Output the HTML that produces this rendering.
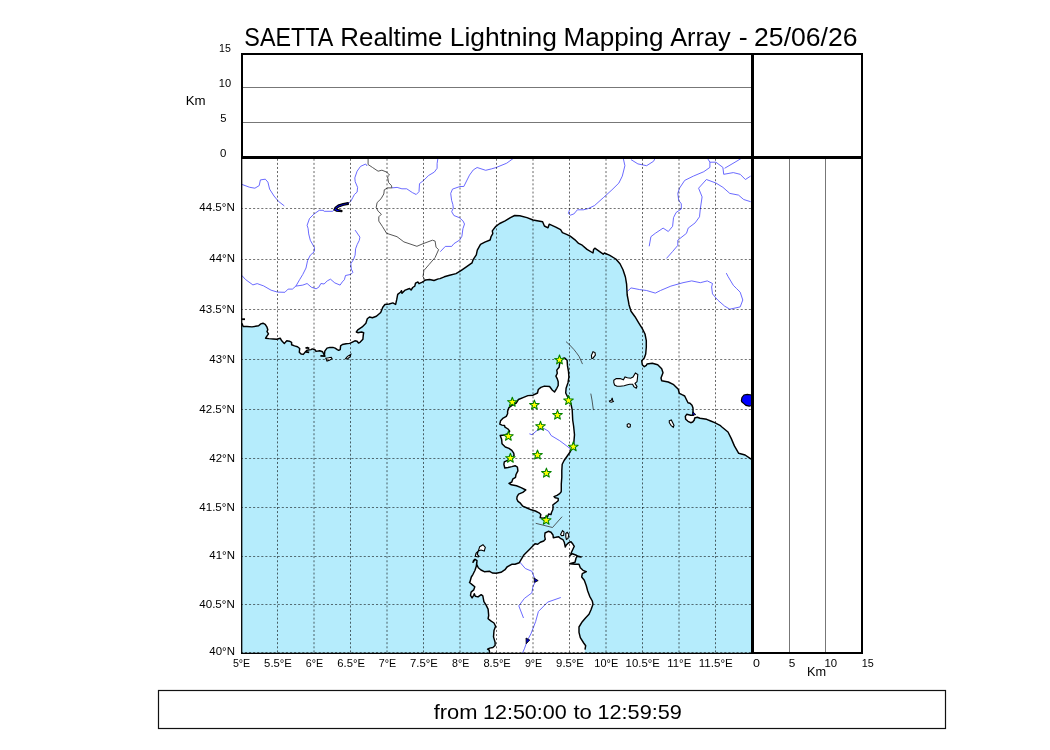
<!DOCTYPE html>
<html><head><meta charset="utf-8"><style>
html,body{margin:0;padding:0;background:#fff;width:1050px;height:750px;overflow:hidden;}
svg text{font-family:"Liberation Sans",sans-serif; fill:#000;}
</style></head><body>
<svg width="1050" height="750" viewBox="0 0 1050 750" style="position:absolute;left:0;top:0">
<defs><clipPath id="mc"><rect x="241" y="157" width="511" height="496"/></clipPath></defs>
<rect x="241" y="157" width="511" height="496" fill="#b5ecfc"/>
<g clip-path="url(#mc)">
<path d="M241.0 323.0 L242.1 323.9 L243.2 326.5 L246.9 326.5 L252.0 326.9 L258.6 325.8 L260.8 323.9 L263.0 323.2 L265.2 324.3 L267.0 327.2 L267.8 329.8 L267.0 331.6 L268.5 333.8 L266.7 336.4 L265.6 338.2 L268.9 338.6 L273.3 339.0 L276.9 339.3 L280.2 338.2 L281.7 340.8 L284.3 343.4 L285.4 342.3 L286.8 340.8 L289.4 341.2 L291.6 342.3 L291.6 344.8 L294.5 345.9 L297.5 346.7 L299.7 348.5 L299.3 352.2 L301.1 354.0 L303.3 354.4 L305.5 351.8 L307.0 350.3 L311.0 349.6 L312.3 348.9 L315.3 350.0 L316.0 351.4 L319.7 350.7 L322.6 351.8 L323.7 354.0 L324.4 355.3 L324.8 351.1 L327.0 348.1 L329.9 347.4 L332.9 347.4 L335.1 348.1 L337.3 349.6 L338.7 350.3 L340.2 349.6 L340.6 345.9 L342.4 344.5 L346.1 343.7 L349.7 343.4 L351.9 342.3 L354.9 340.8 L357.1 341.2 L358.5 343.0 L360.0 342.3 L362.9 339.3 L363.3 334.9 L363.7 332.7 L361.5 332.0 L357.8 332.7 L356.3 332.0 L357.8 329.8 L362.2 326.9 L363.7 325.4 L365.9 323.2 L367.3 318.8 L369.5 317.0 L372.4 317.7 L376.4 316.3 L380.7 312.5 L382.8 307.2 L384.9 304.5 L389.2 304.0 L392.9 302.9 L395.6 304.5 L396.7 299.7 L397.7 294.4 L400.4 292.3 L401.5 290.7 L402.0 293.3 L405.2 290.1 L409.5 288.5 L411.1 290.1 L412.7 287.5 L414.8 286.2 L415.5 283.2 L418.0 282.0 L419.0 283.7 L422.3 282.1 L425.5 280.0 L429.7 279.5 L434.0 280.5 L438.3 278.9 L440.0 278.6 L444.3 276.8 L449.6 275.2 L456.0 273.6 L461.3 270.4 L466.7 266.7 L472.0 262.9 L473.1 259.7 L476.3 254.9 L477.3 250.1 L480.5 244.3 L484.8 242.1 L490.1 240.0 L491.2 236.3 L492.8 233.6 L492.3 230.9 L495.5 226.7 L499.7 223.5 L505.1 220.8 L510.4 217.6 L514.7 215.5 L519.8 215.8 L527.0 217.6 L533.0 220.0 L542.6 221.8 L544.4 226.0 L548.0 227.8 L549.2 224.2 L555.8 227.2 L560.6 229.6 L562.4 232.6 L566.6 234.4 L570.2 236.2 L575.0 239.8 L578.6 243.4 L582.2 245.2 L587.0 249.4 L593.0 253.0 L593.6 249.4 L594.8 248.2 L599.0 251.2 L603.2 254.2 L604.4 253.0 L609.8 255.4 L615.8 259.0 L620.0 263.8 L623.0 269.8 L625.4 277.0 L626.6 284.2 L627.2 295.0 L628.3 300.7 L629.0 304.7 L631.0 311.3 L635.0 316.7 L639.0 323.3 L642.3 328.7 L645.0 334.0 L646.3 340.7 L646.3 347.3 L645.7 354.0 L644.3 358.0 L641.7 360.7 L642.3 364.7 L644.3 366.7 L646.3 365.3 L647.0 364.0 L652.3 363.3 L657.7 364.7 L661.7 368.7 L663.0 372.7 L661.0 378.0 L661.7 380.7 L668.3 382.0 L673.7 384.7 L678.3 389.3 L679.3 393.3 L682.0 394.7 L684.7 396.0 L686.0 398.7 L688.0 402.7 L690.0 403.3 L692.0 405.3 L693.0 408.0 L693.0 411.3 L693.3 415.3 L690.7 415.3 L686.7 414.3 L685.3 416.3 L685.7 419.3 L688.0 421.3 L690.7 422.7 L692.7 422.0 L694.3 420.0 L694.7 418.0 L697.3 417.3 L700.0 418.3 L703.3 418.7 L706.7 419.3 L710.7 421.0 L714.7 422.7 L720.0 425.3 L721.6 426.7 L728.0 432.0 L731.2 438.4 L734.4 445.9 L738.7 453.3 L745.1 455.0 L750.4 458.7 L752.0 459.5 L752.0 157.0 L241.0 157.0 Z" fill="#fff" stroke="none"/>
<path d="M564.7 357.9 L567.1 360.3 L567.5 365.9 L568.5 371.5 L568.9 377.1 L568.0 382.7 L566.1 388.3 L565.7 393.0 L568.0 397.6 L570.8 403.2 L572.2 409.8 L572.7 420.0 L573.6 426.0 L574.5 434.7 L573.6 445.1 L570.1 452.0 L564.1 460.5 L562.2 464.3 L561.8 470.8 L561.8 477.3 L561.3 483.9 L561.3 489.5 L561.2 491.8 L559.7 493.6 L557.0 495.4 L554.0 496.6 L555.2 497.8 L558.2 498.4 L558.2 500.8 L555.2 503.2 L552.8 505.0 L553.1 506.8 L552.8 509.8 L551.6 512.2 L551.0 514.6 L548.6 514.0 L547.4 517.0 L543.2 518.2 L540.2 517.6 L540.8 514.6 L539.0 512.8 L535.4 511.0 L531.2 509.8 L527.0 508.0 L522.8 506.2 L520.4 503.2 L518.0 501.4 L516.8 499.0 L517.1 496.6 L518.6 494.2 L522.8 492.4 L525.8 490.0 L521.1 487.6 L516.5 485.8 L511.3 484.8 L509.0 483.4 L511.8 482.0 L512.7 479.2 L515.5 477.3 L516.0 474.5 L517.9 470.8 L517.4 467.1 L515.1 465.7 L511.8 466.6 L508.1 467.5 L504.8 468.0 L503.9 464.3 L504.3 461.9 L508.1 460.1 L511.3 458.7 L514.1 455.4 L513.7 453.1 L511.8 450.3 L509.0 448.4 L505.3 447.0 L502.0 443.7 L501.7 440.0 L501.5 438.9 L500.2 435.5 L504.5 435.0 L508.0 433.7 L509.7 431.1 L508.0 429.0 L505.0 427.2 L504.5 425.5 L501.9 425.1 L499.8 424.2 L500.6 420.7 L503.2 418.1 L506.3 416.4 L507.6 413.8 L507.6 411.2 L508.9 407.7 L512.3 405.1 L516.2 403.0 L518.4 399.5 L523.6 397.3 L527.9 395.6 L533.1 395.2 L537.5 393.0 L538.3 389.5 L540.9 387.4 L544.4 386.1 L549.6 386.5 L552.2 390.0 L554.5 392.0 L556.8 388.3 L558.2 385.5 L558.2 381.7 L557.3 378.9 L555.9 376.1 L557.3 373.3 L556.8 370.1 L559.1 367.3 L559.6 364.0 L561.5 359.5 L563.4 358.1 Z" fill="#fff" stroke="none"/>
<path d="M489.7 653.0 L489.7 652.9 L489.2 650.2 L487.6 649.1 L489.7 648.1 L492.9 647.5 L495.1 645.4 L495.1 642.2 L493.5 636.9 L494.0 630.5 L495.6 626.2 L494.0 623.0 L490.8 620.9 L488.1 618.7 L488.7 615.5 L488.1 609.1 L486.0 604.9 L483.9 601.7 L482.8 595.8 L481.2 594.7 L478.0 596.9 L475.3 596.3 L474.3 593.7 L473.7 595.3 L472.1 597.9 L470.5 595.3 L471.1 592.1 L473.7 589.9 L474.8 586.7 L472.1 584.6 L469.5 582.5 L470.0 581.7 L471.3 577.0 L473.0 574.3 L475.0 570.3 L476.3 566.3 L476.7 563.0 L477.0 560.7 L475.0 559.3 L473.7 560.3 L473.0 562.3 L475.0 559.3 L477.0 560.7 L476.7 564.3 L478.3 567.7 L481.0 570.0 L484.3 571.7 L489.7 571.3 L492.3 573.0 L496.3 573.3 L501.0 572.3 L505.0 569.7 L507.0 567.0 L511.7 564.3 L515.0 564.3 L519.3 562.7 L524.1 554.7 L528.9 549.9 L535.0 543.7 L537.7 544.3 L540.3 542.3 L543.7 541.0 L545.3 539.3 L544.7 536.3 L545.0 533.0 L548.3 531.3 L551.0 532.3 L553.0 535.0 L553.3 537.7 L555.7 537.3 L558.7 536.7 L560.3 538.3 L563.0 539.7 L564.3 542.3 L565.3 547.0 L566.3 545.0 L568.3 543.0 L571.0 541.7 L573.0 544.3 L574.3 546.3 L573.0 549.0 L571.7 551.7 L570.7 554.3 L569.7 555.7 L572.3 553.7 L575.7 555.0 L578.3 556.3 L581.0 557.0 L577.0 556.3 L576.0 558.3 L575.0 562.3 L569.7 563.7 L575.0 564.3 L579.0 564.3 L580.3 567.7 L583.0 570.3 L586.3 571.7 L582.3 573.7 L581.7 577.0 L584.3 580.3 L586.3 585.7 L587.7 591.0 L589.7 596.3 L592.3 601.0 L593.0 604.3 L591.0 609.7 L589.0 614.3 L585.7 617.7 L582.3 621.7 L579.0 627.0 L579.0 632.3 L580.3 637.7 L583.7 643.0 L585.7 645.7 L585.0 649.7 L584.5 653.0 Z" fill="#fff" stroke="none"/>
<path d="M479.7 546.7 L483.0 544.7 L485.3 547.3 L484.3 551.0 L481.0 550.0 L478.3 551.0 L476.0 553.3 L475.3 556.3 L478.3 557.0 L479.0 556.3 L477.3 554.3 Z" fill="#fff" stroke="#000" stroke-width="1.1"/>
<path d="M560.6 534.5 L562.5 530.6 L564.0 532.0 L563.6 535.5 L561.5 535.6 Z" fill="#fff" stroke="#000" stroke-width="1.1"/>
<path d="M565.8 533.5 L567.2 532.4 L568.8 534.5 L568.0 538.5 L566.4 539.5 L565.8 537.0 Z" fill="#fff" stroke="#000" stroke-width="1.1"/>
<path d="M591.4 355.4 L593.0 351.8 L595.0 352.6 L595.4 355.0 L593.0 358.2 L591.8 358.6 Z" fill="#fff" stroke="#000" stroke-width="1.1"/>
<path d="M613.8 380.2 L616.2 378.6 L620.2 378.6 L623.4 379.8 L625.0 377.0 L627.4 377.8 L630.6 378.2 L633.0 377.0 L635.4 373.0 L637.8 374.6 L637.4 378.6 L637.0 381.8 L635.0 383.4 L637.0 386.6 L636.2 388.2 L633.8 386.6 L632.6 384.2 L629.8 384.2 L626.6 385.0 L624.2 385.8 L620.2 386.2 L617.0 386.2 L614.6 385.0 L613.8 382.6 Z" fill="#fff" stroke="#000" stroke-width="1.1"/>
<path d="M609.4 401.0 L611.4 400.2 L612.2 397.8 L612.6 400.2 L613.4 401.4 L611.4 402.2 L609.8 401.8 Z" fill="#fff" stroke="#000" stroke-width="1.1"/>
<path d="M627.2 424.5 L628.8 423.6 L630.4 424.6 L630.2 426.8 L628.6 427.4 L627.2 426.4 Z" fill="#fff" stroke="#000" stroke-width="1.1"/>
<path d="M669.3 420.7 L671.3 420.0 L674.0 425.3 L673.3 427.3 L671.0 425.3 L669.3 422.7 Z" fill="#fff" stroke="#000" stroke-width="1.1"/>
<path d="M325.8 358.2 L328.5 357.8 L331.2 357.3 L332.0 358.6 L329.5 360.2 L327.0 361.0 Z" fill="#fff" stroke="#000" stroke-width="1.1"/>
<path d="M345.6 358.6 L347.5 356.4 L350.8 354.4 L350.2 356.6 L347.2 359.2 Z" fill="#fff" stroke="#000" stroke-width="1.1"/>
<path d="M241.9 184.4 L249.7 187.3 L254.9 188.2 L259.2 185.6 L260.4 179.9 L265.3 179.2 L267.9 182.1 L269.6 189.1 L274.0 196.0 L278.3 201.2 L284.3 205.9" fill="none" stroke="#4f4fff" stroke-width="0.85"/>
<path d="M367.1 166.0 L365.7 164.0 L360.5 166.4 L357.1 171.2 L354.8 177.9 L355.2 181.7 L357.6 187.4 L357.1 192.1 L354.4 194.5 L352.8 197.5 L350.7 201.5 L348.0 203.3" fill="none" stroke="#4f4fff" stroke-width="0.85"/>
<path d="M334.2 210.0 L332.6 211.3 L324.3 211.3 L323.0 210.3 L319.3 210.3 L313.8 214.2 L309.5 218.5 L307.1 225.3 L308.1 228.5 L308.7 233.9 L310.3 240.3 L314.5 247.7 L314.0 252.0 L310.3 255.2 L307.6 260.5 L306.0 268.0 L302.8 274.4 L299.6 279.7 L295.9 286.1 L292.4 289.1 L288.1 289.1 L284.9 292.3 L277.5 292.1 L271.1 290.2 L263.6 285.9 L257.2 283.6 L252.9 284.9 L245.5 279.5 L241.7 275.3" fill="none" stroke="#4f4fff" stroke-width="0.85"/>
<path d="M295.9 286.1 L302.8 285.1 L307.1 283.5 L311.3 287.2 L316.1 288.8 L318.8 287.2 L320.9 283.5 L324.1 284.0 L327.3 280.8 L330.5 279.2 L334.8 282.9 L340.1 285.1 L342.3 281.9 L344.4 279.7 L345.5 275.5 L350.8 274.4 L352.9 272.3 L351.3 269.1 L350.8 263.7 L353.5 259.5 L355.1 255.2 L355.6 248.8 L357.2 244.5 L359.3 240.3 L359.9 237.1 L355.1 230.1" fill="none" stroke="#4f4fff" stroke-width="0.85"/>
<path d="M391.9 187.9 L397.1 187.4 L401.9 188.8 L406.7 188.8 L412.4 192.6 L416.2 194.5 L419.0 191.7 L419.5 183.6 L423.3 180.7 L428.6 175.5 L434.3 172.1 L437.1 168.3 L437.1 163.6 L438.1 157.0" fill="none" stroke="#4f4fff" stroke-width="0.85"/>
<path d="M513.3 158.4 L506.7 163.2 L496.2 167.5 L491.4 168.9 L485.7 170.3 L477.1 167.5 L473.3 169.9 L469.5 175.1 L463.8 186.5 L460.0 186.5 L452.5 189.1 L450.7 193.4 L451.6 200.3 L452.8 204.3 L453.3 208.0 L451.7 211.7 L453.9 215.5 L459.2 217.6 L462.9 220.8 L464.5 224.0 L462.9 228.8 L461.9 236.3 L459.7 240.0 L453.9 243.7 L451.7 246.4 L445.3 246.4 L440.3 251.7" fill="none" stroke="#4f4fff" stroke-width="0.85"/>
<path d="M623.2 158.0 L624.9 165.7 L622.3 176.1 L618.9 183.0 L611.9 189.9 L603.3 197.7 L594.6 205.5 L588.2 208.6 L583.4 209.8 L577.4 209.8 L573.8 214.0 L570.2 215.2 L568.4 213.4 L569.5 209.9" fill="none" stroke="#4f4fff" stroke-width="0.85"/>
<path d="M631.0 159.6 L637.9 163.9 L646.6 165.7 L653.5 161.3 L655.3 158.0" fill="none" stroke="#4f4fff" stroke-width="0.85"/>
<path d="M707.3 158.0 L709.9 162.2 L709.9 167.4 L703.8 171.7 L693.4 176.1 L684.7 180.4 L679.5 188.2 L677.8 193.4 L678.7 200.3 L681.3 203.8 L681.3 209.0 L676.1 212.5 L673.5 217.7 L672.6 226.3 L668.3 231.5 L663.1 228.1 L655.3 233.3 L650.9 236.7 L649.2 246.3" fill="none" stroke="#4f4fff" stroke-width="0.85"/>
<path d="M709.9 162.2 L715.9 162.2 L722.9 167.4 L723.7 174.3 L733.3 172.6 L740.2 174.3 L745.4 179.5 L750.6 176.1" fill="none" stroke="#4f4fff" stroke-width="0.85"/>
<path d="M724.6 168.3 L735.0 162.2 L741.9 158.0" fill="none" stroke="#4f4fff" stroke-width="0.85"/>
<path d="M698.6 188.2 L706.4 179.5 L715.9 183.0 L722.9 187.3 L729.8 193.4 L738.5 195.1 L743.7 199.5 L750.6 201.7" fill="none" stroke="#4f4fff" stroke-width="0.85"/>
<path d="M698.6 188.2 L702.1 196.9 L700.3 209.0 L699.5 216.8 L695.1 222.9 L688.2 228.1 L686.5 233.3 L677.8 240.2 L677.8 245.4 L672.6 251.5 L666.5 258.4" fill="none" stroke="#4f4fff" stroke-width="0.85"/>
<path d="M670.9 286.1 L683.0 282.7 L691.7 280.9 L700.3 282.7 L707.3 280.9 L712.5 283.5 L711.6 287.0" fill="none" stroke="#4f4fff" stroke-width="0.85"/>
<path d="M726.3 273.1 L728.1 276.6 L733.3 285.3" fill="none" stroke="#4f4fff" stroke-width="0.85"/>
<path d="M711.6 287.0 L712.5 293.9 L717.7 300.0 L724.6 306.1 L729.8 309.2 L740.2 306.9 L742.8 300.0 L740.2 292.2 L736.7 288.7 L733.3 285.3" fill="none" stroke="#4f4fff" stroke-width="0.85"/>
<path d="M627.5 291.3 L631.0 287.9 L639.7 289.6 L646.6 290.5 L655.3 293.1 L660.5 290.5 L670.9 286.1" fill="none" stroke="#4f4fff" stroke-width="0.85"/>
<path d="M529.4 433.8 L532.0 434.7 L537.2 430.3 L544.1 428.6 L548.5 431.2 L551.1 435.5 L559.7 440.7 L566.7 445.9 L571.0 449.4" fill="none" stroke="#4f4fff" stroke-width="0.85"/>
<path d="M519.7 562.0 L525.3 568.5 L531.9 571.3 L533.7 576.0 L535.6 580.7 L532.8 587.2 L531.9 592.8 L524.4 598.4 L518.8 605.9 L523.5 618.0" fill="none" stroke="#4f4fff" stroke-width="0.85"/>
<path d="M560.8 597.5 L547.7 602.1 L538.4 611.5 L535.6 621.7 L530.9 633.9 L527.5 640.0 L524.4 648.8 L522.5 653.0" fill="none" stroke="#4f4fff" stroke-width="0.85"/>
<path d="M368.1 157.0 L368.1 164.5 L372.4 167.4 L378.1 171.2 L381.9 170.2 L386.7 172.1 L389.5 175.0 L387.6 176.9 L388.6 182.6 L391.4 185.5 L391.9 187.9 L387.6 187.9 L384.3 189.8 L383.8 194.0 L381.0 198.8 L377.1 202.6 L376.2 207.4 L378.1 211.2 L381.4 214.2 L378.8 216.8 L378.8 221.1 L382.3 226.3 L386.6 233.3 L397.0 236.7 L403.9 241.9 L416.9 246.3 L423.0 243.7 L432.5 240.2 L435.1 241.1 L436.0 247.1 L438.6 249.7 L435.1 257.5 L429.1 264.5 L423.9 270.5 L423.0 276.6 L425.6 280.9" fill="none" stroke="#444" stroke-width="0.9"/>
<path d="M566.0 341.6 L569.5 344.8 L573.8 349.4 L576.5 352.8 L579.0 356.3 L582.5 364.1" fill="none" stroke="#333" stroke-width="0.8"/>
<path d="M590.8 393.6 L592.0 400.0 L593.4 410.1" fill="none" stroke="#333" stroke-width="0.8"/>
<path d="M535.7 523.3 L552.5 527.5 L562.1 516.7" fill="none" stroke="#333" stroke-width="0.8"/>
<path d="M241.0 323.0 L242.1 323.9 L243.2 326.5 L246.9 326.5 L252.0 326.9 L258.6 325.8 L260.8 323.9 L263.0 323.2 L265.2 324.3 L267.0 327.2 L267.8 329.8 L267.0 331.6 L268.5 333.8 L266.7 336.4 L265.6 338.2 L268.9 338.6 L273.3 339.0 L276.9 339.3 L280.2 338.2 L281.7 340.8 L284.3 343.4 L285.4 342.3 L286.8 340.8 L289.4 341.2 L291.6 342.3 L291.6 344.8 L294.5 345.9 L297.5 346.7 L299.7 348.5 L299.3 352.2 L301.1 354.0 L303.3 354.4 L305.5 351.8 L307.0 350.3 L311.0 349.6 L312.3 348.9 L315.3 350.0 L316.0 351.4 L319.7 350.7 L322.6 351.8 L323.7 354.0 L324.4 355.3 L324.8 351.1 L327.0 348.1 L329.9 347.4 L332.9 347.4 L335.1 348.1 L337.3 349.6 L338.7 350.3 L340.2 349.6 L340.6 345.9 L342.4 344.5 L346.1 343.7 L349.7 343.4 L351.9 342.3 L354.9 340.8 L357.1 341.2 L358.5 343.0 L360.0 342.3 L362.9 339.3 L363.3 334.9 L363.7 332.7 L361.5 332.0 L357.8 332.7 L356.3 332.0 L357.8 329.8 L362.2 326.9 L363.7 325.4 L365.9 323.2 L367.3 318.8 L369.5 317.0 L372.4 317.7 L376.4 316.3 L380.7 312.5 L382.8 307.2 L384.9 304.5 L389.2 304.0 L392.9 302.9 L395.6 304.5 L396.7 299.7 L397.7 294.4 L400.4 292.3 L401.5 290.7 L402.0 293.3 L405.2 290.1 L409.5 288.5 L411.1 290.1 L412.7 287.5 L414.8 286.2 L415.5 283.2 L418.0 282.0 L419.0 283.7 L422.3 282.1 L425.5 280.0 L429.7 279.5 L434.0 280.5 L438.3 278.9 L440.0 278.6 L444.3 276.8 L449.6 275.2 L456.0 273.6 L461.3 270.4 L466.7 266.7 L472.0 262.9 L473.1 259.7 L476.3 254.9 L477.3 250.1 L480.5 244.3 L484.8 242.1 L490.1 240.0 L491.2 236.3 L492.8 233.6 L492.3 230.9 L495.5 226.7 L499.7 223.5 L505.1 220.8 L510.4 217.6 L514.7 215.5 L519.8 215.8 L527.0 217.6 L533.0 220.0 L542.6 221.8 L544.4 226.0 L548.0 227.8 L549.2 224.2 L555.8 227.2 L560.6 229.6 L562.4 232.6 L566.6 234.4 L570.2 236.2 L575.0 239.8 L578.6 243.4 L582.2 245.2 L587.0 249.4 L593.0 253.0 L593.6 249.4 L594.8 248.2 L599.0 251.2 L603.2 254.2 L604.4 253.0 L609.8 255.4 L615.8 259.0 L620.0 263.8 L623.0 269.8 L625.4 277.0 L626.6 284.2 L627.2 295.0 L628.3 300.7 L629.0 304.7 L631.0 311.3 L635.0 316.7 L639.0 323.3 L642.3 328.7 L645.0 334.0 L646.3 340.7 L646.3 347.3 L645.7 354.0 L644.3 358.0 L641.7 360.7 L642.3 364.7 L644.3 366.7 L646.3 365.3 L647.0 364.0 L652.3 363.3 L657.7 364.7 L661.7 368.7 L663.0 372.7 L661.0 378.0 L661.7 380.7 L668.3 382.0 L673.7 384.7 L678.3 389.3 L679.3 393.3 L682.0 394.7 L684.7 396.0 L686.0 398.7 L688.0 402.7 L690.0 403.3 L692.0 405.3 L693.0 408.0 L693.0 411.3 L693.3 415.3 L690.7 415.3 L686.7 414.3 L685.3 416.3 L685.7 419.3 L688.0 421.3 L690.7 422.7 L692.7 422.0 L694.3 420.0 L694.7 418.0 L697.3 417.3 L700.0 418.3 L703.3 418.7 L706.7 419.3 L710.7 421.0 L714.7 422.7 L720.0 425.3 L721.6 426.7 L728.0 432.0 L731.2 438.4 L734.4 445.9 L738.7 453.3 L745.1 455.0 L750.4 458.7 L752.0 459.5" fill="none" stroke="#000" stroke-width="1.45" stroke-linejoin="round"/>
<path d="M564.7 357.9 L567.1 360.3 L567.5 365.9 L568.5 371.5 L568.9 377.1 L568.0 382.7 L566.1 388.3 L565.7 393.0 L568.0 397.6 L570.8 403.2 L572.2 409.8 L572.7 420.0 L573.6 426.0 L574.5 434.7 L573.6 445.1 L570.1 452.0 L564.1 460.5 L562.2 464.3 L561.8 470.8 L561.8 477.3 L561.3 483.9 L561.3 489.5 L561.2 491.8 L559.7 493.6 L557.0 495.4 L554.0 496.6 L555.2 497.8 L558.2 498.4 L558.2 500.8 L555.2 503.2 L552.8 505.0 L553.1 506.8 L552.8 509.8 L551.6 512.2 L551.0 514.6 L548.6 514.0 L547.4 517.0 L543.2 518.2 L540.2 517.6 L540.8 514.6 L539.0 512.8 L535.4 511.0 L531.2 509.8 L527.0 508.0 L522.8 506.2 L520.4 503.2 L518.0 501.4 L516.8 499.0 L517.1 496.6 L518.6 494.2 L522.8 492.4 L525.8 490.0 L521.1 487.6 L516.5 485.8 L511.3 484.8 L509.0 483.4 L511.8 482.0 L512.7 479.2 L515.5 477.3 L516.0 474.5 L517.9 470.8 L517.4 467.1 L515.1 465.7 L511.8 466.6 L508.1 467.5 L504.8 468.0 L503.9 464.3 L504.3 461.9 L508.1 460.1 L511.3 458.7 L514.1 455.4 L513.7 453.1 L511.8 450.3 L509.0 448.4 L505.3 447.0 L502.0 443.7 L501.7 440.0 L501.5 438.9 L500.2 435.5 L504.5 435.0 L508.0 433.7 L509.7 431.1 L508.0 429.0 L505.0 427.2 L504.5 425.5 L501.9 425.1 L499.8 424.2 L500.6 420.7 L503.2 418.1 L506.3 416.4 L507.6 413.8 L507.6 411.2 L508.9 407.7 L512.3 405.1 L516.2 403.0 L518.4 399.5 L523.6 397.3 L527.9 395.6 L533.1 395.2 L537.5 393.0 L538.3 389.5 L540.9 387.4 L544.4 386.1 L549.6 386.5 L552.2 390.0 L554.5 392.0 L556.8 388.3 L558.2 385.5 L558.2 381.7 L557.3 378.9 L555.9 376.1 L557.3 373.3 L556.8 370.1 L559.1 367.3 L559.6 364.0 L561.5 359.5 L563.4 358.1 Z" fill="none" stroke="#000" stroke-width="1.45" stroke-linejoin="round"/>
<path d="M489.7 652.9 L489.2 650.2 L487.6 649.1 L489.7 648.1 L492.9 647.5 L495.1 645.4 L495.1 642.2 L493.5 636.9 L494.0 630.5 L495.6 626.2 L494.0 623.0 L490.8 620.9 L488.1 618.7 L488.7 615.5 L488.1 609.1 L486.0 604.9 L483.9 601.7 L482.8 595.8 L481.2 594.7 L478.0 596.9 L475.3 596.3 L474.3 593.7 L473.7 595.3 L472.1 597.9 L470.5 595.3 L471.1 592.1 L473.7 589.9 L474.8 586.7 L472.1 584.6 L469.5 582.5 L470.0 581.7 L471.3 577.0 L473.0 574.3 L475.0 570.3 L476.3 566.3 L476.7 563.0 L477.0 560.7 L475.0 559.3 L473.7 560.3 L473.0 562.3 L475.0 559.3 L477.0 560.7 L476.7 564.3 L478.3 567.7 L481.0 570.0 L484.3 571.7 L489.7 571.3 L492.3 573.0 L496.3 573.3 L501.0 572.3 L505.0 569.7 L507.0 567.0 L511.7 564.3 L515.0 564.3 L519.3 562.7 L524.1 554.7 L528.9 549.9 L535.0 543.7 L537.7 544.3 L540.3 542.3 L543.7 541.0 L545.3 539.3 L544.7 536.3 L545.0 533.0 L548.3 531.3 L551.0 532.3 L553.0 535.0 L553.3 537.7 L555.7 537.3 L558.7 536.7 L560.3 538.3 L563.0 539.7 L564.3 542.3 L565.3 547.0 L566.3 545.0 L568.3 543.0 L571.0 541.7 L573.0 544.3 L574.3 546.3 L573.0 549.0 L571.7 551.7 L570.7 554.3 L569.7 555.7 L572.3 553.7 L575.7 555.0 L578.3 556.3 L581.0 557.0 L577.0 556.3 L576.0 558.3 L575.0 562.3 L569.7 563.7 L575.0 564.3 L579.0 564.3 L580.3 567.7 L583.0 570.3 L586.3 571.7 L582.3 573.7 L581.7 577.0 L584.3 580.3 L586.3 585.7 L587.7 591.0 L589.7 596.3 L592.3 601.0 L593.0 604.3 L591.0 609.7 L589.0 614.3 L585.7 617.7 L582.3 621.7 L579.0 627.0 L579.0 632.3 L580.3 637.7 L583.7 643.0 L585.7 645.7 L585.0 649.7" fill="none" stroke="#000" stroke-width="1.45" stroke-linejoin="round"/>
<path d="M305.5 348.2 L307.5 347.6 L309.2 348.6" fill="none" stroke="#000" stroke-width="1.8"/>
<path d="M305.8 351.8 L309.2 352.4" fill="none" stroke="#000" stroke-width="1.8"/>
<path d="M241.5 319.2 L245.0 319.2" fill="none" stroke="#000" stroke-width="1.8"/>
<path d="M320.4 355.9 L325.5 356.2" fill="none" stroke="#000" stroke-width="1.8"/>
<path d="M348.2 202.6 L343 203.6 L338 205.1 L335 207.5 L333.9 209.8 L336.5 211.2 L341.9 211.8 L342 210.6 L337.8 209.6 L336.6 208.7 L338.8 206.9 L343.6 205.2 L348.4 204.4 Z" fill="#0000ff" stroke="#000" stroke-width="1.1" stroke-linejoin="round"/>
<path d="M692.8 411.8 L695.8 414.6 L692.5 415.2 Z" fill="#0000cc" stroke="#000" stroke-width="0.8"/>
<path d="M534 578 L538.2 580.6 L534.6 582.4 Z" fill="#0000cc" stroke="#000" stroke-width="0.8"/>
<path d="M526 638 L529.8 640 L526.2 643.8 Z" fill="#0000cc" stroke="#000" stroke-width="0.8"/>
<path d="M277.5 652.4 L277.5 157 M314.0 652.4 L314.0 157 M350.5 652.4 L350.5 157 M387.0 652.4 L387.0 157 M423.5 652.4 L423.5 157 M460.0 652.4 L460.0 157 M496.5 652.4 L496.5 157 M533.0 652.4 L533.0 157 M569.5 652.4 L569.5 157 M606.0 652.4 L606.0 157 M642.5 652.4 L642.5 157 M679.0 652.4 L679.0 157 M715.5 652.4 L715.5 157" fill="none" stroke="#000" stroke-opacity="0.6" stroke-width="1" stroke-dasharray="2 2.097"/>
<path d="M240.8 604.5 L752 604.5 M240.8 556.5 L752 556.5 M240.8 507.5 L752 507.5 M240.8 458.5 L752 458.5 M240.8 409.5 L752 409.5 M240.8 359.5 L752 359.5 M240.8 309.5 L752 309.5 M240.8 259.5 L752 259.5 M240.8 208.5 L752 208.5 M240.8 652.5 L752 652.5" fill="none" stroke="#000" stroke-opacity="0.54" stroke-width="1" stroke-dasharray="2.1 1.997"/>
<path d="M559.5 354.9 L560.7 358.2 L564.3 358.4 L561.5 360.5 L562.4 363.9 L559.5 362.0 L556.6 363.9 L557.5 360.5 L554.7 358.4 L558.3 358.2 Z" fill="#ffff00" stroke="#008000" stroke-width="1.05" stroke-linejoin="round"/>
<path d="M512.3 397.2 L513.5 400.5 L517.1 400.7 L514.3 402.8 L515.2 406.2 L512.3 404.3 L509.4 406.2 L510.3 402.8 L507.5 400.7 L511.1 400.5 Z" fill="#ffff00" stroke="#008000" stroke-width="1.05" stroke-linejoin="round"/>
<path d="M534.4 400.1 L535.6 403.4 L539.2 403.6 L536.4 405.7 L537.3 409.1 L534.4 407.2 L531.5 409.1 L532.4 405.7 L529.6 403.6 L533.2 403.4 Z" fill="#ffff00" stroke="#008000" stroke-width="1.05" stroke-linejoin="round"/>
<path d="M568.5 395.5 L569.7 398.8 L573.3 399.0 L570.5 401.1 L571.4 404.5 L568.5 402.6 L565.6 404.5 L566.5 401.1 L563.7 399.0 L567.3 398.8 Z" fill="#ffff00" stroke="#008000" stroke-width="1.05" stroke-linejoin="round"/>
<path d="M557.5 410.1 L558.7 413.4 L562.3 413.6 L559.5 415.7 L560.4 419.1 L557.5 417.2 L554.6 419.1 L555.5 415.7 L552.7 413.6 L556.3 413.4 Z" fill="#ffff00" stroke="#008000" stroke-width="1.05" stroke-linejoin="round"/>
<path d="M540.5 421.3 L541.7 424.6 L545.3 424.8 L542.5 426.9 L543.4 430.3 L540.5 428.4 L537.6 430.3 L538.5 426.9 L535.7 424.8 L539.3 424.6 Z" fill="#ffff00" stroke="#008000" stroke-width="1.05" stroke-linejoin="round"/>
<path d="M508.4 431.3 L509.6 434.6 L513.2 434.8 L510.4 436.9 L511.3 440.3 L508.4 438.4 L505.5 440.3 L506.4 436.9 L503.6 434.8 L507.2 434.6 Z" fill="#ffff00" stroke="#008000" stroke-width="1.05" stroke-linejoin="round"/>
<path d="M573.3 441.8 L574.5 445.1 L578.1 445.3 L575.3 447.4 L576.2 450.8 L573.3 448.9 L570.4 450.8 L571.3 447.4 L568.5 445.3 L572.1 445.1 Z" fill="#ffff00" stroke="#008000" stroke-width="1.05" stroke-linejoin="round"/>
<path d="M510.4 453.2 L511.6 456.5 L515.2 456.7 L512.4 458.8 L513.3 462.2 L510.4 460.3 L507.5 462.2 L508.4 458.8 L505.6 456.7 L509.2 456.5 Z" fill="#ffff00" stroke="#008000" stroke-width="1.05" stroke-linejoin="round"/>
<path d="M537.5 450.0 L538.7 453.3 L542.3 453.5 L539.5 455.6 L540.4 459.0 L537.5 457.1 L534.6 459.0 L535.5 455.6 L532.7 453.5 L536.3 453.3 Z" fill="#ffff00" stroke="#008000" stroke-width="1.05" stroke-linejoin="round"/>
<path d="M546.4 468.1 L547.6 471.4 L551.2 471.6 L548.4 473.7 L549.3 477.1 L546.4 475.2 L543.5 477.1 L544.4 473.7 L541.6 471.6 L545.2 471.4 Z" fill="#ffff00" stroke="#008000" stroke-width="1.05" stroke-linejoin="round"/>
<path d="M546.2 515.3 L547.4 518.6 L551.0 518.8 L548.2 520.9 L549.1 524.3 L546.2 522.4 L543.3 524.3 L544.2 520.9 L541.4 518.8 L545.0 518.6 Z" fill="#ffff00" stroke="#008000" stroke-width="1.05" stroke-linejoin="round"/>
<path d="M741.4 400.6 L742 397.5 L744 395 L747.2 394.4 L751.5 395 L753 396 L753 405 L749.2 406.2 L746 405.4 L743.6 403.4 L741.8 401.8 Z" fill="#0000ff" stroke="#000" stroke-width="1.2"/>
</g>
<path d="M241.7 157 L241.7 654 M241 653.4 L752 653.4" fill="none" stroke="#000" stroke-width="1.3"/>
<path d="M241 87.5 L752 87.5 M241 122.5 L752 122.5" stroke="#777" stroke-width="1"/>
<path d="M789.5 157 L789.5 653 M825.5 157 L825.5 653" stroke="#777" stroke-width="1"/>
<path d="M241 54 L863 54 M862 53 L862 654 M752 653 L863 653 M242 53 L242 157" fill="none" stroke="#000" stroke-width="2"/>
<path d="M241 157.5 L863 157.5 M752.5 53 L752.5 654" stroke="#000" stroke-width="3"/>
<rect x="158.5" y="690.5" width="787" height="38" fill="none" stroke="#111" stroke-width="1.2"/>
</svg>
<svg width="1050" height="750" style="position:absolute;left:0;top:0;will-change:transform"><text x="244.366" y="46.00" font-size="25.00" transform="translate(244.366 0) scale(0.9334 1) translate(-244.366 0)">SAETTA</text>
<text x="340.267" y="46.00" font-size="25.00" transform="translate(340.267 0) scale(1.0366 1) translate(-340.267 0)">Realtime</text>
<text x="449.780" y="46.00" font-size="25.00" transform="translate(449.780 0) scale(1.0565 1) translate(-449.780 0)">Lightning</text>
<text x="563.550" y="46.00" font-size="25.00" transform="translate(563.550 0) scale(1.0426 1) translate(-563.550 0)">Mapping</text>
<text x="670.202" y="46.00" font-size="25.00" transform="translate(670.202 0) scale(1.0126 1) translate(-670.202 0)">Array</text>
<text x="738.821" y="46.00" font-size="25.00" transform="translate(738.821 0) scale(1.0759 1) translate(-738.821 0)">-</text>
<text x="754.086" y="46.00" font-size="25.00" transform="translate(754.086 0) scale(1.0633 1) translate(-754.086 0)">25/06/26</text>
<text x="433.658" y="718.60" font-size="20.40" transform="translate(433.658 0) scale(1.0735 1) translate(-433.658 0)">from</text>
<text x="482.969" y="718.60" font-size="20.40" transform="translate(482.969 0) scale(1.0552 1) translate(-482.969 0)">12:50:00</text>
<text x="573.422" y="718.60" font-size="20.40" transform="translate(573.422 0) scale(1.0847 1) translate(-573.422 0)">to</text>
<text x="597.446" y="718.60" font-size="20.40" transform="translate(597.446 0) scale(1.0634 1) translate(-597.446 0)">12:59:59</text>
<text x="219.045" y="52.00" font-size="11.60" transform="translate(219.045 0) scale(0.9119 1) translate(-219.045 0)">15</text>
<text x="218.826" y="87.20" font-size="11.60" transform="translate(218.826 0) scale(0.9573 1) translate(-218.826 0)">10</text>
<text x="220.282" y="122.10" font-size="11.60" transform="translate(220.282 0) scale(0.9676 1) translate(-220.282 0)">5</text>
<text x="220.009" y="157.00" font-size="11.60" transform="translate(220.009 0) scale(0.9875 1) translate(-220.009 0)">0</text>
<text x="185.644" y="105.00" font-size="12.00" transform="translate(185.644 0) scale(1.1073 1) translate(-185.644 0)">Km</text>
<text x="806.936" y="676.00" font-size="12.00" transform="translate(806.936 0) scale(1.0636 1) translate(-806.936 0)">Km</text>
<text x="752.917" y="666.80" font-size="11.60" transform="translate(752.917 0) scale(1.0751 1) translate(-752.917 0)">0</text>
<text x="788.738" y="666.80" font-size="11.60" transform="translate(788.738 0) scale(1.0154 1) translate(-788.738 0)">5</text>
<text x="824.394" y="666.80" font-size="11.60" transform="translate(824.394 0) scale(0.9824 1) translate(-824.394 0)">10</text>
<text x="861.816" y="666.80" font-size="11.60" transform="translate(861.816 0) scale(0.9319 1) translate(-861.816 0)">15</text>
<text x="209.321" y="655.50" font-size="11.60" transform="translate(209.321 0) scale(0.9878 1) translate(-209.321 0)">40°N</text>
<text x="199.290" y="607.68" font-size="11.60" transform="translate(199.290 0) scale(0.9983 1) translate(-199.290 0)">40.5°N</text>
<text x="209.321" y="559.50" font-size="11.60" transform="translate(209.321 0) scale(0.9878 1) translate(-209.321 0)">41°N</text>
<text x="199.290" y="510.95" font-size="11.60" transform="translate(199.290 0) scale(0.9983 1) translate(-199.290 0)">41.5°N</text>
<text x="209.321" y="462.02" font-size="11.60" transform="translate(209.321 0) scale(0.9878 1) translate(-209.321 0)">42°N</text>
<text x="199.290" y="412.71" font-size="11.60" transform="translate(199.290 0) scale(0.9983 1) translate(-199.290 0)">42.5°N</text>
<text x="209.321" y="363.01" font-size="11.60" transform="translate(209.321 0) scale(0.9878 1) translate(-209.321 0)">43°N</text>
<text x="199.290" y="312.89" font-size="11.60" transform="translate(199.290 0) scale(0.9983 1) translate(-199.290 0)">43.5°N</text>
<text x="209.321" y="262.37" font-size="11.60" transform="translate(209.321 0) scale(0.9878 1) translate(-209.321 0)">44°N</text>
<text x="199.290" y="211.41" font-size="11.60" transform="translate(199.290 0) scale(0.9983 1) translate(-199.290 0)">44.5°N</text>
<text x="232.907" y="667.00" font-size="11.60" transform="translate(232.907 0) scale(0.9195 1) translate(-232.907 0)">5°E</text>
<text x="264.114" y="667.00" font-size="11.60" transform="translate(264.114 0) scale(0.9736 1) translate(-264.114 0)">5.5°E</text>
<text x="305.764" y="667.00" font-size="11.60" transform="translate(305.764 0) scale(0.9249 1) translate(-305.764 0)">6°E</text>
<text x="337.273" y="667.00" font-size="11.60" transform="translate(337.273 0) scale(0.9708 1) translate(-337.273 0)">6.5°E</text>
<text x="378.688" y="667.00" font-size="11.60" transform="translate(378.688 0) scale(0.9259 1) translate(-378.688 0)">7°E</text>
<text x="410.069" y="667.00" font-size="11.60" transform="translate(410.069 0) scale(0.9743 1) translate(-410.069 0)">7.5°E</text>
<text x="452.061" y="667.00" font-size="11.60" transform="translate(452.061 0) scale(0.9150 1) translate(-452.061 0)">8°E</text>
<text x="483.384" y="667.00" font-size="11.60" transform="translate(483.384 0) scale(0.9623 1) translate(-483.384 0)">8.5°E</text>
<text x="524.897" y="667.00" font-size="11.60" transform="translate(524.897 0) scale(0.9211 1) translate(-524.897 0)">9°E</text>
<text x="556.123" y="667.00" font-size="11.60" transform="translate(556.123 0) scale(0.9744 1) translate(-556.123 0)">9.5°E</text>
<text x="594.353" y="667.00" font-size="11.60" transform="translate(594.353 0) scale(0.9453 1) translate(-594.353 0)">10°E</text>
<text x="625.632" y="667.00" font-size="11.60" transform="translate(625.632 0) scale(0.9777 1) translate(-625.632 0)">10.5°E</text>
<text x="667.248" y="667.00" font-size="11.60" transform="translate(667.248 0) scale(0.9842 1) translate(-667.248 0)">11°E</text>
<text x="698.777" y="667.00" font-size="11.60" transform="translate(698.777 0) scale(0.9995 1) translate(-698.777 0)">11.5°E</text></svg>
</body></html>
